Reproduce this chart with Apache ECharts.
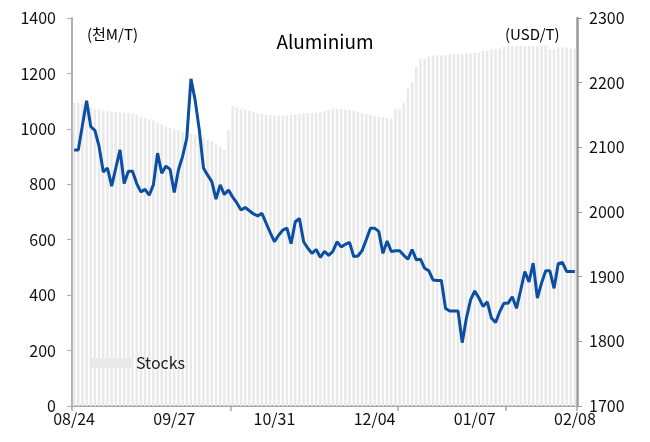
<!DOCTYPE html>
<html>
<head>
<meta charset="utf-8">
<script src="https://cdn.jsdelivr.net/npm/echarts@6/dist/echarts.min.js"></script>
<style>html,body{margin:0;padding:0;background:#fff}#c{width:650px;height:442px}</style>
</head>
<body>
<div id="c"></div>
<script>
const tickLabels = ['08/24','09/27','10/31','12/04','01/07','02/08'];
const labelStep = 24;
const stocks = [
1094,1094,1090,1082,1078,1071,1070,1066,1065,1062,
1062,1060,1058,1056,1054,1050,1042,1038,1034,1030,
1022,1016,1008,1004,1000,996,990,984,982,978,
975,968,960,955,944,935,924,996,1082,1075,
1071,1068,1064,1060,1056,1054,1052,1050,1048,1048,
1048,1048,1050,1052,1054,1056,1056,1056,1058,1060,
1064,1068,1072,1072,1072,1070,1068,1064,1060,1056,
1054,1050,1046,1044,1042,1040,1038,1071,1071,1092,
1146,1167,1224,1251,1251,1260,1264,1266,1266,1266,
1268,1270,1270,1270,1272,1272,1275,1275,1281,1281,
1285,1288,1290,1295,1299,1299,1299,1299,1299,1299,
1299,1299,1299,1299,1287,1287,1294,1294,1294,1290,
1290
];
const price = [
2096,2096,2134,2172,2132,2126,2101,2062,2068,2040,
2068,2096,2044,2063,2063,2044,2031,2035,2026,2042,
2091,2060,2071,2066,2030,2065,2086,2114,2206,2173,
2127,2068,2057,2047,2020,2042,2027,2034,2023,2014,
2003,2007,2002,1997,1994,1998,1983,1968,1954,1964,
1972,1975,1951,1985,1990,1954,1944,1936,1942,1930,
1939,1933,1939,1954,1946,1950,1953,1931,1932,1940,
1957,1975,1975,1970,1936,1955,1939,1940,1940,1933,
1927,1942,1926,1927,1913,1909,1895,1894,1894,1851,
1847,1847,1847,1798,1836,1864,1878,1867,1854,1861,
1836,1829,1846,1859,1859,1869,1851,1879,1908,1892,
1921,1867,1890,1909,1909,1882,1920,1922,1908,1908,
1908
];
const categories = stocks.map((v, i) => (i % labelStep === 0 ? tickLabels[i / labelStep] : '') || ('d' + i));
const tickIdx = [0, 38, 78, 104];
const FONT = '"Noto Sans CJK KR", "Noto Sans", sans-serif';

const chart = echarts.init(document.getElementById('c'), null, {renderer: 'canvas'});
chart.setOption({
  animation: false,
  backgroundColor: '#fff',
  title: {
    text: 'Aluminium', left: 'center', top: 27,
    textStyle: {fontSize: 19, fontWeight: 'normal', color: '#000', fontFamily: FONT}
  },
  legend: {
    data: [{name: 'Stocks', icon: 'rect'}],
    left: 86, top: 350, itemWidth: 40, itemHeight: 10, itemGap: 4,
    textStyle: {fontSize: 16, color: '#222', fontFamily: FONT}
  },
  graphic: [
    {type: 'text', left: 87, top: 27, style: {text: '(천M/T)', fontSize: 15, fill: '#000', fontFamily: FONT}},
    {type: 'text', left: 505, top: 27, style: {text: '(USD/T)', fontSize: 15, fill: '#000', fontFamily: FONT}}
  ],
  grid: {left: 72, right: 73, top: 18, bottom: 36, containLabel: false},
  xAxis: {
    type: 'category', data: categories, boundaryGap: true,
    axisLine: {lineStyle: {color: '#a6a6a6', width: 2}},
    axisTick: {show: true, length: 5, lineStyle: {color: '#a6a6a6', width: 1.5},
      interval: (i) => tickIdx.indexOf(i) >= 0},
    axisLabel: {interval: labelStep - 1, fontSize: 16, color: '#111', fontFamily: FONT, margin: 5,
      formatter: (v) => v.charAt(0) === 'd' ? '' : v}
  },
  yAxis: [
    {type: 'value', min: 0, max: 1400, interval: 200,
      axisLine: {show: true, lineStyle: {color: '#b0b0b0', width: 2}},
      axisTick: {show: true, length: 5, lineStyle: {color: '#b0b0b0'}},
      splitLine: {show: false},
      axisLabel: {fontSize: 16, color: '#111', fontFamily: FONT, margin: 16, formatter: (v) => String(v)}},
    {type: 'value', min: 1700, max: 2300, interval: 100, position: 'right',
      axisLine: {show: true, lineStyle: {color: '#999', width: 2.5}},
      axisTick: {show: true, length: 5, lineStyle: {color: '#999'}},
      splitLine: {show: false},
      axisLabel: {fontSize: 16, color: '#111', fontFamily: FONT, margin: 12, formatter: (v) => String(v)}}
  ],
  series: [
    {name: 'Stocks', type: 'bar', yAxisIndex: 0, data: stocks, barCategoryGap: '40%',
      itemStyle: {color: '#e9e9e9'}},
    {name: 'Price', type: 'line', yAxisIndex: 1, data: price, symbol: 'none',
      lineStyle: {color: '#0b4ea2', width: 3}, itemStyle: {color: '#0b4ea2'}, z: 5}
  ]
});
</script>
</body>
</html>
